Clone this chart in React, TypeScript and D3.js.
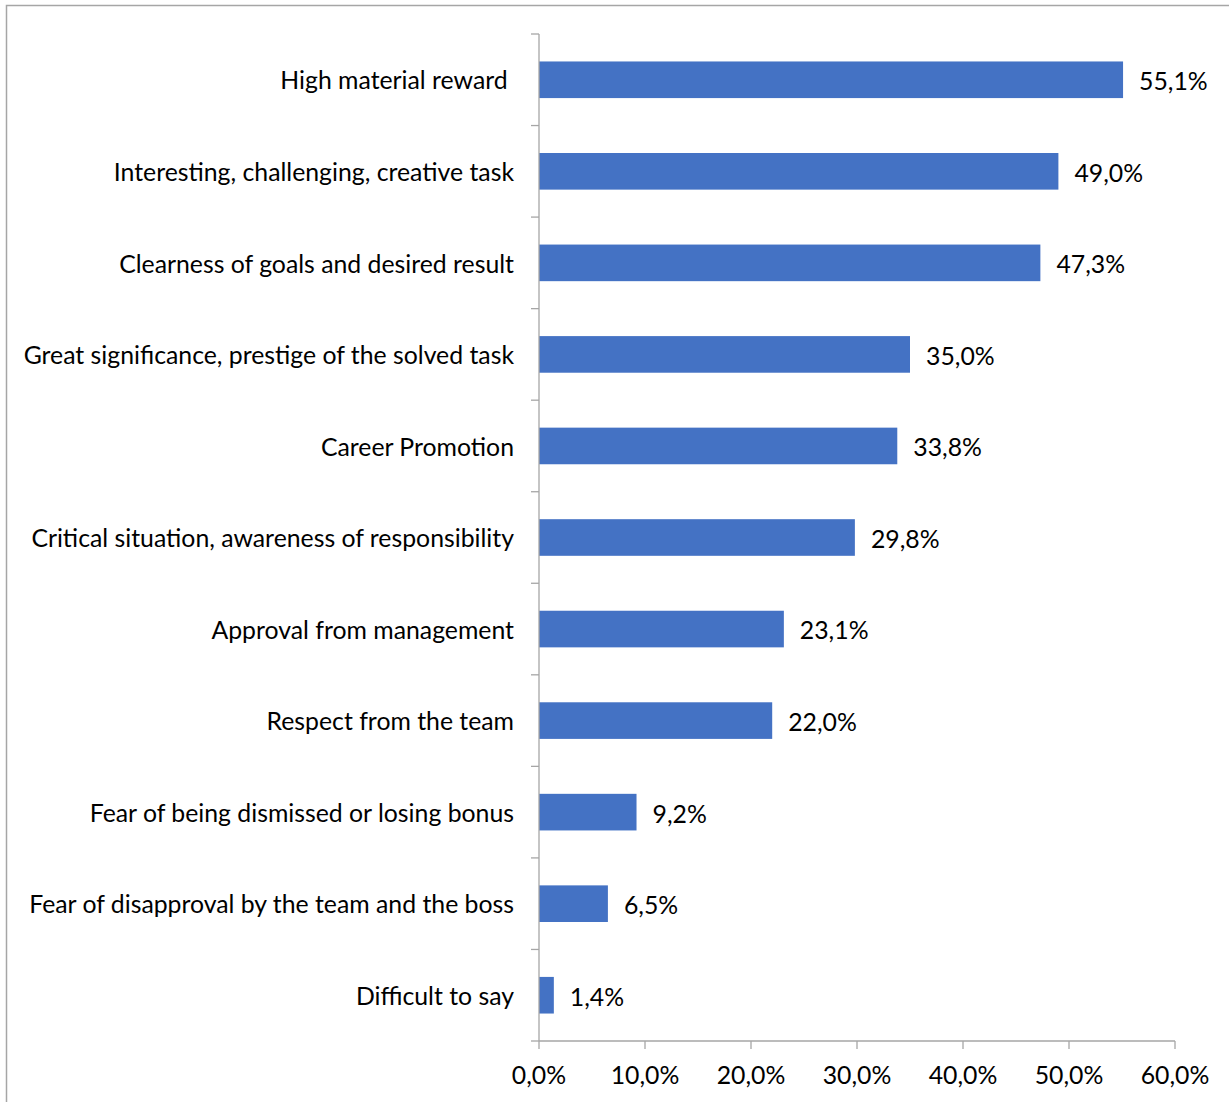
import React from "react";
import * as d3 from "d3";

const categories = [
  "High material reward ",
  "Interesting, challenging, creative task",
  "Clearness of goals and desired result",
  "Great significance, prestige of the solved task",
  "Career Promotion",
  "Critical situation, awareness of responsibility",
  "Approval from management",
  "Respect from the team",
  "Fear of being dismissed or losing bonus",
  "Fear of disapproval by the team and the boss",
  "Difficult to say",
];
const values = [55.1, 49.0, 47.3, 35.0, 33.8, 29.8, 23.1, 22.0, 9.2, 6.5, 1.4];
const xTicks = [0, 10, 20, 30, 40, 50, 60];

const W = 1229;
const H = 1102;
const FONT = "Lato, 'Open Sans', sans-serif";
const FS = 24.8;
const GRAY = "#a6a6a6";

const fmt = (v: number) => v.toFixed(1).replace(".", ",") + "%";

export default function App() {
  const x = d3.scaleLinear().domain([0, 60]).range([539, 1175]);
  const y = d3
    .scaleBand<string>()
    .domain(categories)
    .range([34, 1041])
    .paddingInner(0.6)
    .paddingOuter(0.3);
  const step = y.step();
  const top = 34;
  const bottom = 1041;
  const boundaries = d3.range(categories.length + 1).map((i) => top + i * step);

  return (
    <div style={{ position: "absolute", left: 0, top: 0 }}>
      <svg width={W} height={H} style={{ display: "block", fontFamily: FONT }}>
        <rect x={0} y={0} width={W} height={H} fill="#fff" />
        <rect x={6.5} y={5.5} width={W + 20} height={H + 20} fill="none" stroke={GRAY} strokeWidth={1.5} />
        {categories.map((c, i) => (
          <rect
            key={c}
            x={x(0)}
            y={y(c)!}
            width={x(values[i]) - x(0)}
            height={y.bandwidth()}
            fill="#4472C4"
          />
        ))}
        {/* y axis */}
        <line x1={x(0)} x2={x(0)} y1={top} y2={bottom} stroke={GRAY} strokeWidth={1.3} />
        {boundaries.map((b, i) => (
          <line key={i} x1={x(0) - 8} x2={x(0)} y1={b} y2={b} stroke={GRAY} strokeWidth={1.3} />
        ))}
        {/* x axis */}
        <line x1={x(0)} x2={x(60)} y1={bottom} y2={bottom} stroke={GRAY} strokeWidth={1.3} />
        {xTicks.map((t) => (
          <g key={t}>
            <line x1={x(t)} x2={x(t)} y1={bottom} y2={bottom + 8} stroke={GRAY} strokeWidth={1.3} />
            <text x={x(t)} y={1084} textAnchor="middle" fontSize={FS} fill="#000">
              {fmt(t)}
            </text>
          </g>
        ))}
        {categories.map((c, i) => (
          <text
            key={"l" + c}
            x={514}
            y={y(c)! + y.bandwidth() / 2}
            dy="0.39em"
            textAnchor="end"
            fontSize={FS}
            fill="#000"
            style={{ whiteSpace: "pre" }}
          >
            {c}
          </text>
        ))}
        {categories.map((c, i) => (
          <text
            key={"v" + c}
            x={x(values[i]) + 16}
            y={y(c)! + y.bandwidth() / 2}
            dy="0.42em"
            fontSize={FS}
            fill="#000"
          >
            {fmt(values[i])}
          </text>
        ))}
      </svg>
    </div>
  );
}
